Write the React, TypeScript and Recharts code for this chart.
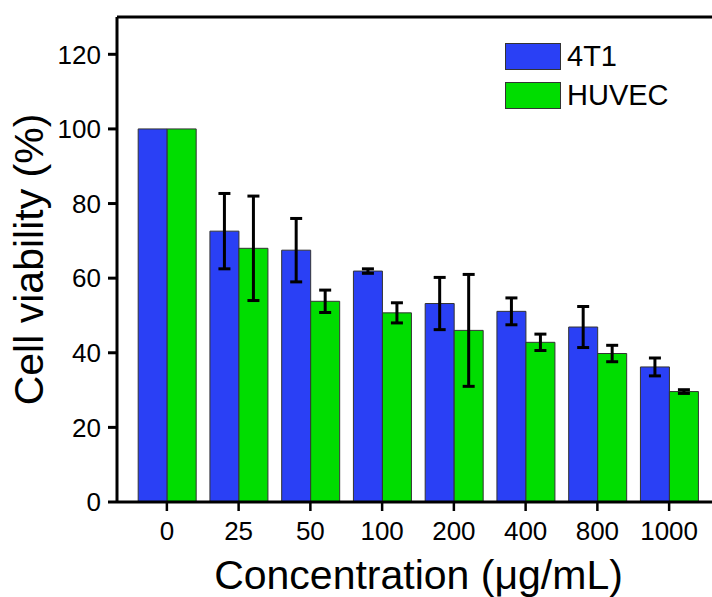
import React from "react";
import {
  BarChart,
  Bar,
  XAxis,
  YAxis,
  ErrorBar,
  Legend,
  ReferenceLine,
} from "recharts";

const concentrations = ["0", "25", "50", "100", "200", "400", "800", "1000"];
const viability4T1 = [100, 72.6, 67.5, 61.9, 53.2, 51.1, 46.9, 36.2];
const sd4T1 = [0, 10.1, 8.5, 0.6, 7.0, 3.6, 5.5, 2.4];
const viabilityHUVEC = [100, 68.0, 53.8, 50.7, 46.0, 42.8, 39.8, 29.6];
const sdHUVEC = [0, 14.0, 3.0, 2.7, 15.0, 2.2, 2.2, 0.5];
const majorTicks = [0, 20, 40, 60, 80, 100, 120];
const minorTicks = [10, 30, 50, 70, 90, 110];

const BLUE = "#2a40f5";
const GREEN = "#00dd00";
const FONT = "Arial, 'Liberation Sans', sans-serif";

const data = concentrations.map((c, i) => ({
  conc: c,
  t4: viability4T1[i],
  t4Err: sd4T1[i],
  huvec: viabilityHUVEC[i],
  huvecErr: sdHUVEC[i],
}));

function LegendBox(props: any) {
  const { payload } = props;
  return (
    <div style={{ fontFamily: FONT }}>
      {(payload || []).map((p: any) => (
        <div
          key={p.value}
          style={{ display: "flex", alignItems: "center", height: 27, marginBottom: 12 }}
        >
          <div
            style={{
              width: 56,
              height: 27,
              boxSizing: "border-box",
              background: p.color,
              border: "1px solid #333",
            }}
          />
          <span style={{ marginLeft: 6, fontSize: 29, lineHeight: "27px", color: "#000" }}>
            {p.value}
          </span>
        </div>
      ))}
    </div>
  );
}

export default function App() {
  return (
    <div
      style={{
        position: "fixed",
        left: 0,
        top: 0,
        width: 712,
        height: 597,
        overflow: "hidden",
        background: "#fff",
      }}
    >
      <BarChart
        width={712}
        height={597}
        data={data}
        margin={{ top: 17, right: 0, bottom: 0, left: 0 }}
        barCategoryGap="10%"
        barGap={0}
      >
        <XAxis
          dataKey="conc"
          height={95}
          padding={{ left: 14, right: 7 }}
          axisLine={{ stroke: "#000", strokeWidth: 3 }}
          tickLine={{ stroke: "#000", strokeWidth: 2.5 }}
          tickSize={9}
          tickMargin={11}
          tick={{ fill: "#000", fontSize: 26, fontFamily: FONT }}
          label={{
            value: "Concentration (μg/mL)",
            position: "insideBottom",
            offset: 8,
            dx: 4,
            style: { fontSize: 41, fontFamily: FONT, fill: "#000" },
          }}
        />
        {/* minor ticks sit right on the plot edge, no labels */}
        <YAxis
          yAxisId="minor"
          width={0}
          domain={[0, 130]}
          ticks={minorTicks}
          interval={0}
          axisLine={false}
          tickLine={{ stroke: "#000", strokeWidth: 3 }}
          tickSize={5}
          tickFormatter={() => ""}
        />
        <YAxis
          yAxisId="left"
          width={117}
          domain={[0, 130]}
          ticks={majorTicks}
          interval={0}
          axisLine={{ stroke: "#000", strokeWidth: 3 }}
          tickLine={{ stroke: "#000", strokeWidth: 3 }}
          tickSize={9}
          tickMargin={7}
          tick={{ fill: "#000", fontSize: 26, fontFamily: FONT }}
          label={{
            value: "Cell viability (%)",
            angle: -90,
            position: "insideLeft",
            offset: 28,
            style: { textAnchor: "middle", fontSize: 41, fontFamily: FONT, fill: "#000" },
          }}
        />
        <ReferenceLine yAxisId="left" y={130} stroke="#000" strokeWidth={3} />
        <Legend
          layout="vertical"
          align="center"
          verticalAlign="middle"
          wrapperStyle={{ left: 505, top: 43, width: 200 }}
          content={<LegendBox />}
        />
        <Bar yAxisId="left" dataKey="t4" name="4T1" fill={BLUE} stroke="#333" strokeWidth={1} isAnimationActive={false}>
          <ErrorBar dataKey="t4Err" width={6} stroke="#000" strokeWidth={3} />
        </Bar>
        <Bar yAxisId="left" dataKey="huvec" name="HUVEC" fill={GREEN} stroke="#333" strokeWidth={1} isAnimationActive={false}>
          <ErrorBar dataKey="huvecErr" width={6} stroke="#000" strokeWidth={3} />
        </Bar>
      </BarChart>
    </div>
  );
}
